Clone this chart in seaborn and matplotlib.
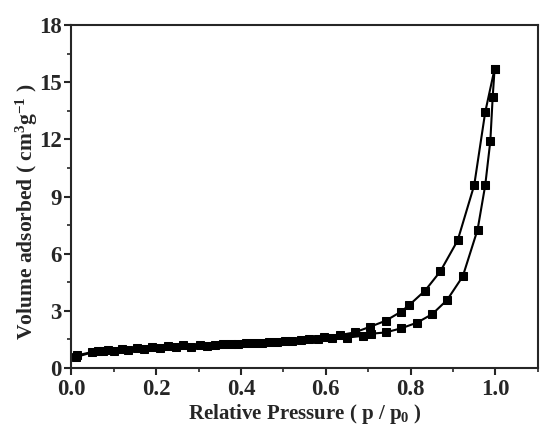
import pandas as pd
import matplotlib
matplotlib.use("Agg")
import matplotlib.pyplot as plt
import seaborn as sns
from matplotlib.ticker import MultipleLocator

# adsorption branch (lower)
ads_p = [0.011, 0.049, 0.074, 0.101, 0.134, 0.171, 0.209, 0.246, 0.283, 0.319,
         0.358, 0.393, 0.431, 0.467, 0.503, 0.542, 0.582, 0.615, 0.650, 0.688,
         0.707, 0.741, 0.777, 0.815, 0.851, 0.886, 0.923, 0.958, 0.976, 0.988,
         0.9935, 0.998]
ads_v = [0.58, 0.82, 0.90, 0.88, 0.93, 0.98, 1.03, 1.09, 1.13, 1.17,
         1.24, 1.28, 1.32, 1.35, 1.41, 1.45, 1.52, 1.56, 1.60, 1.69,
         1.80, 1.87, 2.08, 2.38, 2.83, 3.57, 4.81, 7.27, 9.60, 11.92,
         14.20, 15.70]

# desorption branch (upper)
des_p = [0.998, 0.976, 0.950, 0.911, 0.870, 0.834, 0.797, 0.777, 0.741, 0.705,
         0.668, 0.633, 0.597, 0.560, 0.521, 0.485, 0.449, 0.412, 0.376, 0.340,
         0.303, 0.264, 0.228, 0.191, 0.154, 0.119, 0.086, 0.064, 0.013]
des_v = [15.70, 13.44, 9.60, 6.70, 5.07, 4.06, 3.31, 2.95, 2.48, 2.17,
         1.87, 1.73, 1.62, 1.50, 1.44, 1.38, 1.34, 1.30, 1.27, 1.21,
         1.20, 1.22, 1.18, 1.12, 1.05, 1.00, 0.97, 0.92, 0.66]

sns.set_style("ticks")
plt.rcParams['font.family'] = ['Liberation Serif', 'DejaVu Serif']
plt.rcParams['font.weight'] = 'bold'
plt.rcParams['mathtext.fontset'] = 'custom'
plt.rcParams['mathtext.rm'] = 'Liberation Serif:bold'
plt.rcParams['mathtext.it'] = 'Liberation Serif:bold'
plt.rcParams['mathtext.bf'] = 'Liberation Serif:bold'

ads = pd.DataFrame({'p': ads_p, 'v': ads_v})
des = pd.DataFrame({'p': des_p, 'v': des_v})

fig = plt.figure(figsize=(5.4, 4.25), dpi=100)
ax = fig.add_axes([0.132, 0.134, 0.864, 0.807])

for d in (ads, des):
    sns.lineplot(data=d, x='p', y='v', sort=False, ax=ax, color='black',
                 linewidth=1.5, marker='s', markersize=6,
                 markeredgecolor='black', markerfacecolor='black')

ax.set_xlim(0, 1.1)
ax.set_ylim(0, 18)
ax.xaxis.set_major_locator(MultipleLocator(0.2))
ax.xaxis.set_minor_locator(MultipleLocator(0.1))
ax.yaxis.set_major_locator(MultipleLocator(3))
ax.yaxis.set_minor_locator(MultipleLocator(1.5))
ax.set_xticklabels([f"{t:.1f}" for t in ax.get_xticks()])
ax.tick_params(which='major', direction='out', length=5, width=1.5, labelsize=16.5)
ax.tick_params(axis='x', which='major', pad=3)
ax.tick_params(axis='y', which='major', pad=2)
ax.tick_params(which='minor', direction='out', length=3, width=1.2)
for s in ax.spines.values():
    s.set_linewidth(1.5)

ax.set_xlabel("Relative Pressure ( p / p$_0$ )", fontsize=15, fontweight='bold')
ax.set_ylabel("Volume adsorbed ( cm$^3$g$^{-1}$ )", fontsize=15.5, fontweight='bold')
ax.xaxis.set_label_coords(0.5, -0.099)
ax.yaxis.set_label_coords(-0.066, 0.455)

fig.savefig("out.png", dpi=100)
